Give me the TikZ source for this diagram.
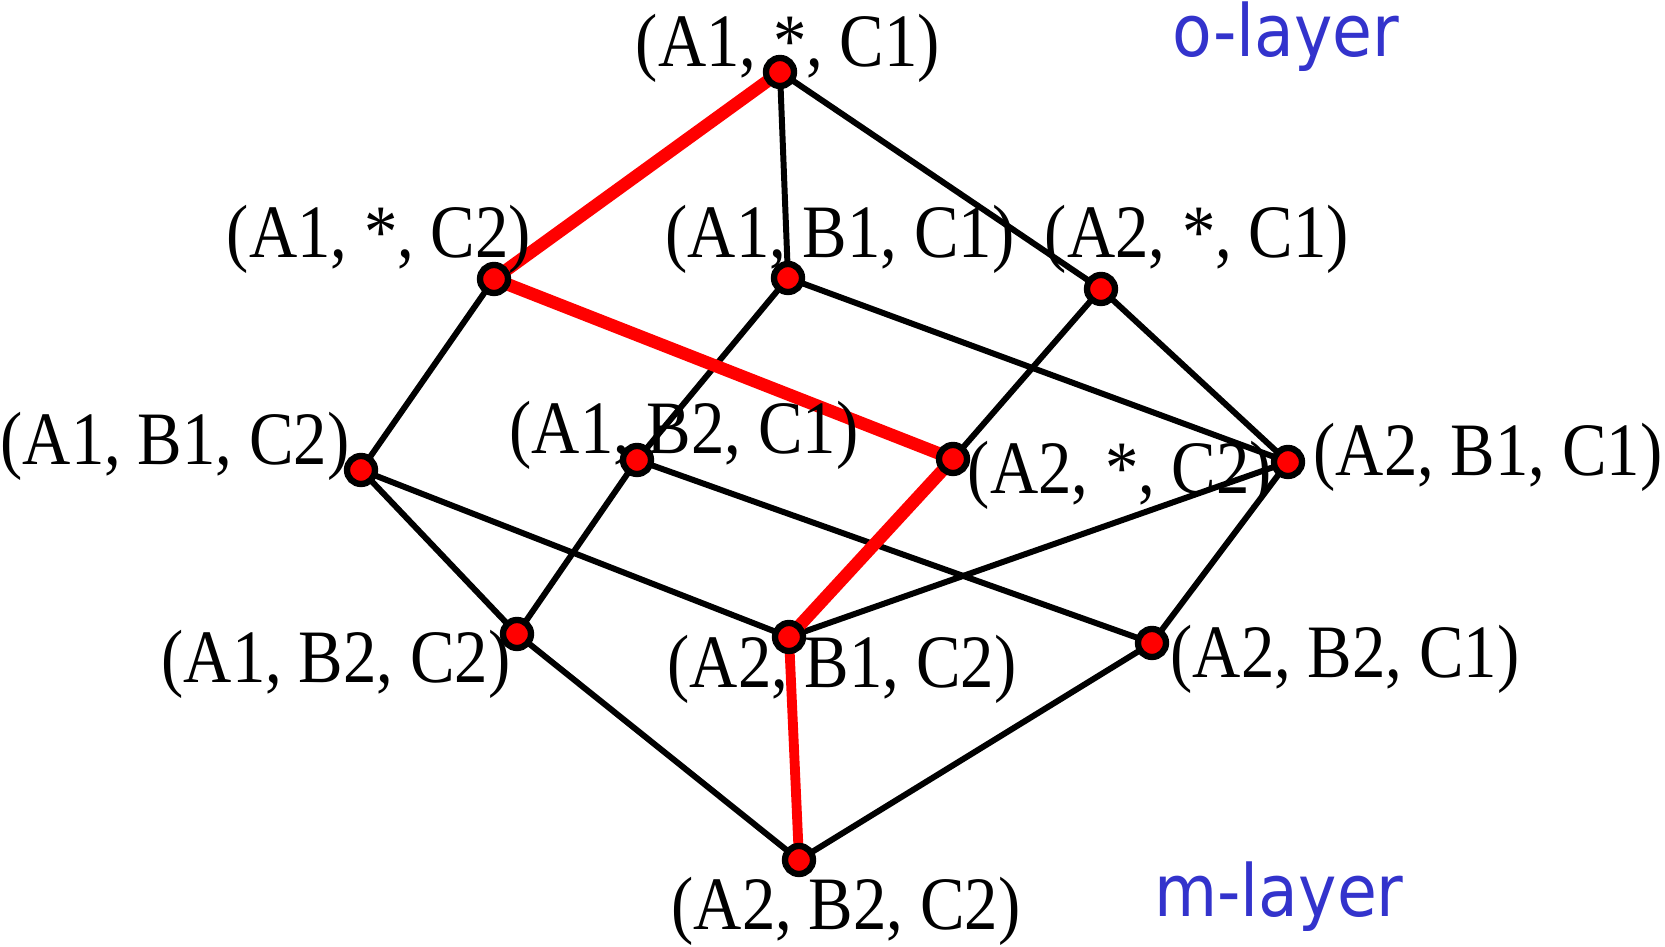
\documentclass[tikz,border=0pt]{standalone}
\usepackage{fontspec}
\setmainfont{Liberation Serif}
\newfontfamily\layerfont{DejaVu Sans Condensed}
\usetikzlibrary{backgrounds}
\definecolor{layerblue}{RGB}{51,51,204}
\newcommand\tup[1]{\scalebox{1}[1.13]{#1}}

\begin{document}
\begin{tikzpicture}[font=\fontsize{19}{22}\selectfont,
    dot/.style={circle, draw=black, fill=red, line width=1.8pt, inner sep=0pt, minimum size=0.28cm},
    edge/.style={black, line width=1.7pt},
    path/.style={red, line width=3.6pt},
    layer/.style={text=layerblue, font=\layerfont\fontsize{20.5}{24}\selectfont}]
        \useasboundingbox (0,0) rectangle (16.65,9.47);
        % cuboids
        \node[dot] (a1sc1) at (7.80,8.75) {};
        \node[dot] (a1sc2) at (4.94,6.68) {};
        \node[dot] (a1b1c1) at (7.88,6.69) {};
        \node[dot] (a2sc1) at (11.01,6.58) {};
        \node[dot] (a1b1c2) at (3.61,4.77) {};
        \node[dot] (a1b2c1) at (6.37,4.87) {};
        \node[dot] (a2sc2) at (9.53,4.88) {};
        \node[dot] (a2b1c1) at (12.88,4.85) {};
        \node[dot] (a1b2c2) at (5.17,3.13) {};
        \node[dot] (a2b1c2) at (7.89,3.10) {};
        \node[dot] (a2b2c1) at (11.52,3.04) {};
        \node[dot] (a2b2c2) at (7.99,0.87) {};
        % lattice edges
        \begin{scope}[on background layer]
        \draw[edge] (a1sc1.center) -- (a1b1c1.center);
        \draw[edge] (a1sc1.center) -- (a2sc1.center);
        \draw[edge] (a1sc2.center) -- (a1b1c2.center);
        \draw[edge] (a1b1c1.center) -- (a1b2c1.center);
        \draw[edge] (a1b1c1.center) -- (a2b1c1.center);
        \draw[edge] (a2sc1.center) -- (a2sc2.center);
        \draw[edge] (a2sc1.center) -- (a2b1c1.center);
        \draw[edge] (a1b1c2.center) -- (a1b2c2.center);
        \draw[edge] (a1b1c2.center) -- (a2b1c2.center);
        \draw[edge] (a1b2c1.center) -- (a1b2c2.center);
        \draw[edge] (a1b2c1.center) -- (a2b2c1.center);
        \draw[edge] (a2b1c1.center) -- (a2b1c2.center);
        \draw[edge] (a2b1c1.center) -- (a2b2c1.center);
        \draw[edge] (a1b2c2.center) -- (a2b2c2.center);
        \draw[edge] (a2b2c1.center) -- (a2b2c2.center);
        % drilling path
        \draw[path] (a1sc1.center) -- (a1sc2.center) -- (a2sc2.center) -- (a2b1c2.center);
        \draw[path, line width=2.8pt] (a2b1c2.center) -- (a2b2c2.center);
        \end{scope}
        % labels
        \node (l-a1sc1) at (7.88,8.99) {\tup{(A1, *, C1)}};
        \node (l-a1sc2) at (3.79,7.08) {\tup{(A1, *, C2)}};
        \node (l-a1b1c1) at (8.40,7.08) {\tup{(A1, B1, C1)}};
        \node (l-a2sc1) at (11.97,7.08) {\tup{(A2, *, C1)}};
        \node (l-a1b1c2) at (1.75,5.01) {\tup{(A1, B1, C2)}};
        \node (l-a1b2c1) at (6.84,5.12) {\tup{(A1, B2, C1)}};
        \node (l-a2sc2) at (11.20,4.72) {\tup{(A2, *, C2)}};
        \node (l-a2b1c1) at (14.88,4.90) {\tup{(A2, B1, C1)}};
        \node (l-a1b2c2) at (3.36,2.83) {\tup{(A1, B2, C2)}};
        \node (l-a2b1c2) at (8.42,2.78) {\tup{(A2, B1, C2)}};
        \node (l-a2b2c1) at (13.45,2.88) {\tup{(A2, B2, C1)}};
        \node (l-a2b2c2) at (8.46,0.36) {\tup{(A2, B2, C2)}};
        \node[layer] (olayer) at (12.86,9.10) {o-layer};
        \node[layer] (mlayer) at (12.79,0.50) {m-layer};
    \end{tikzpicture}
\end{document}
